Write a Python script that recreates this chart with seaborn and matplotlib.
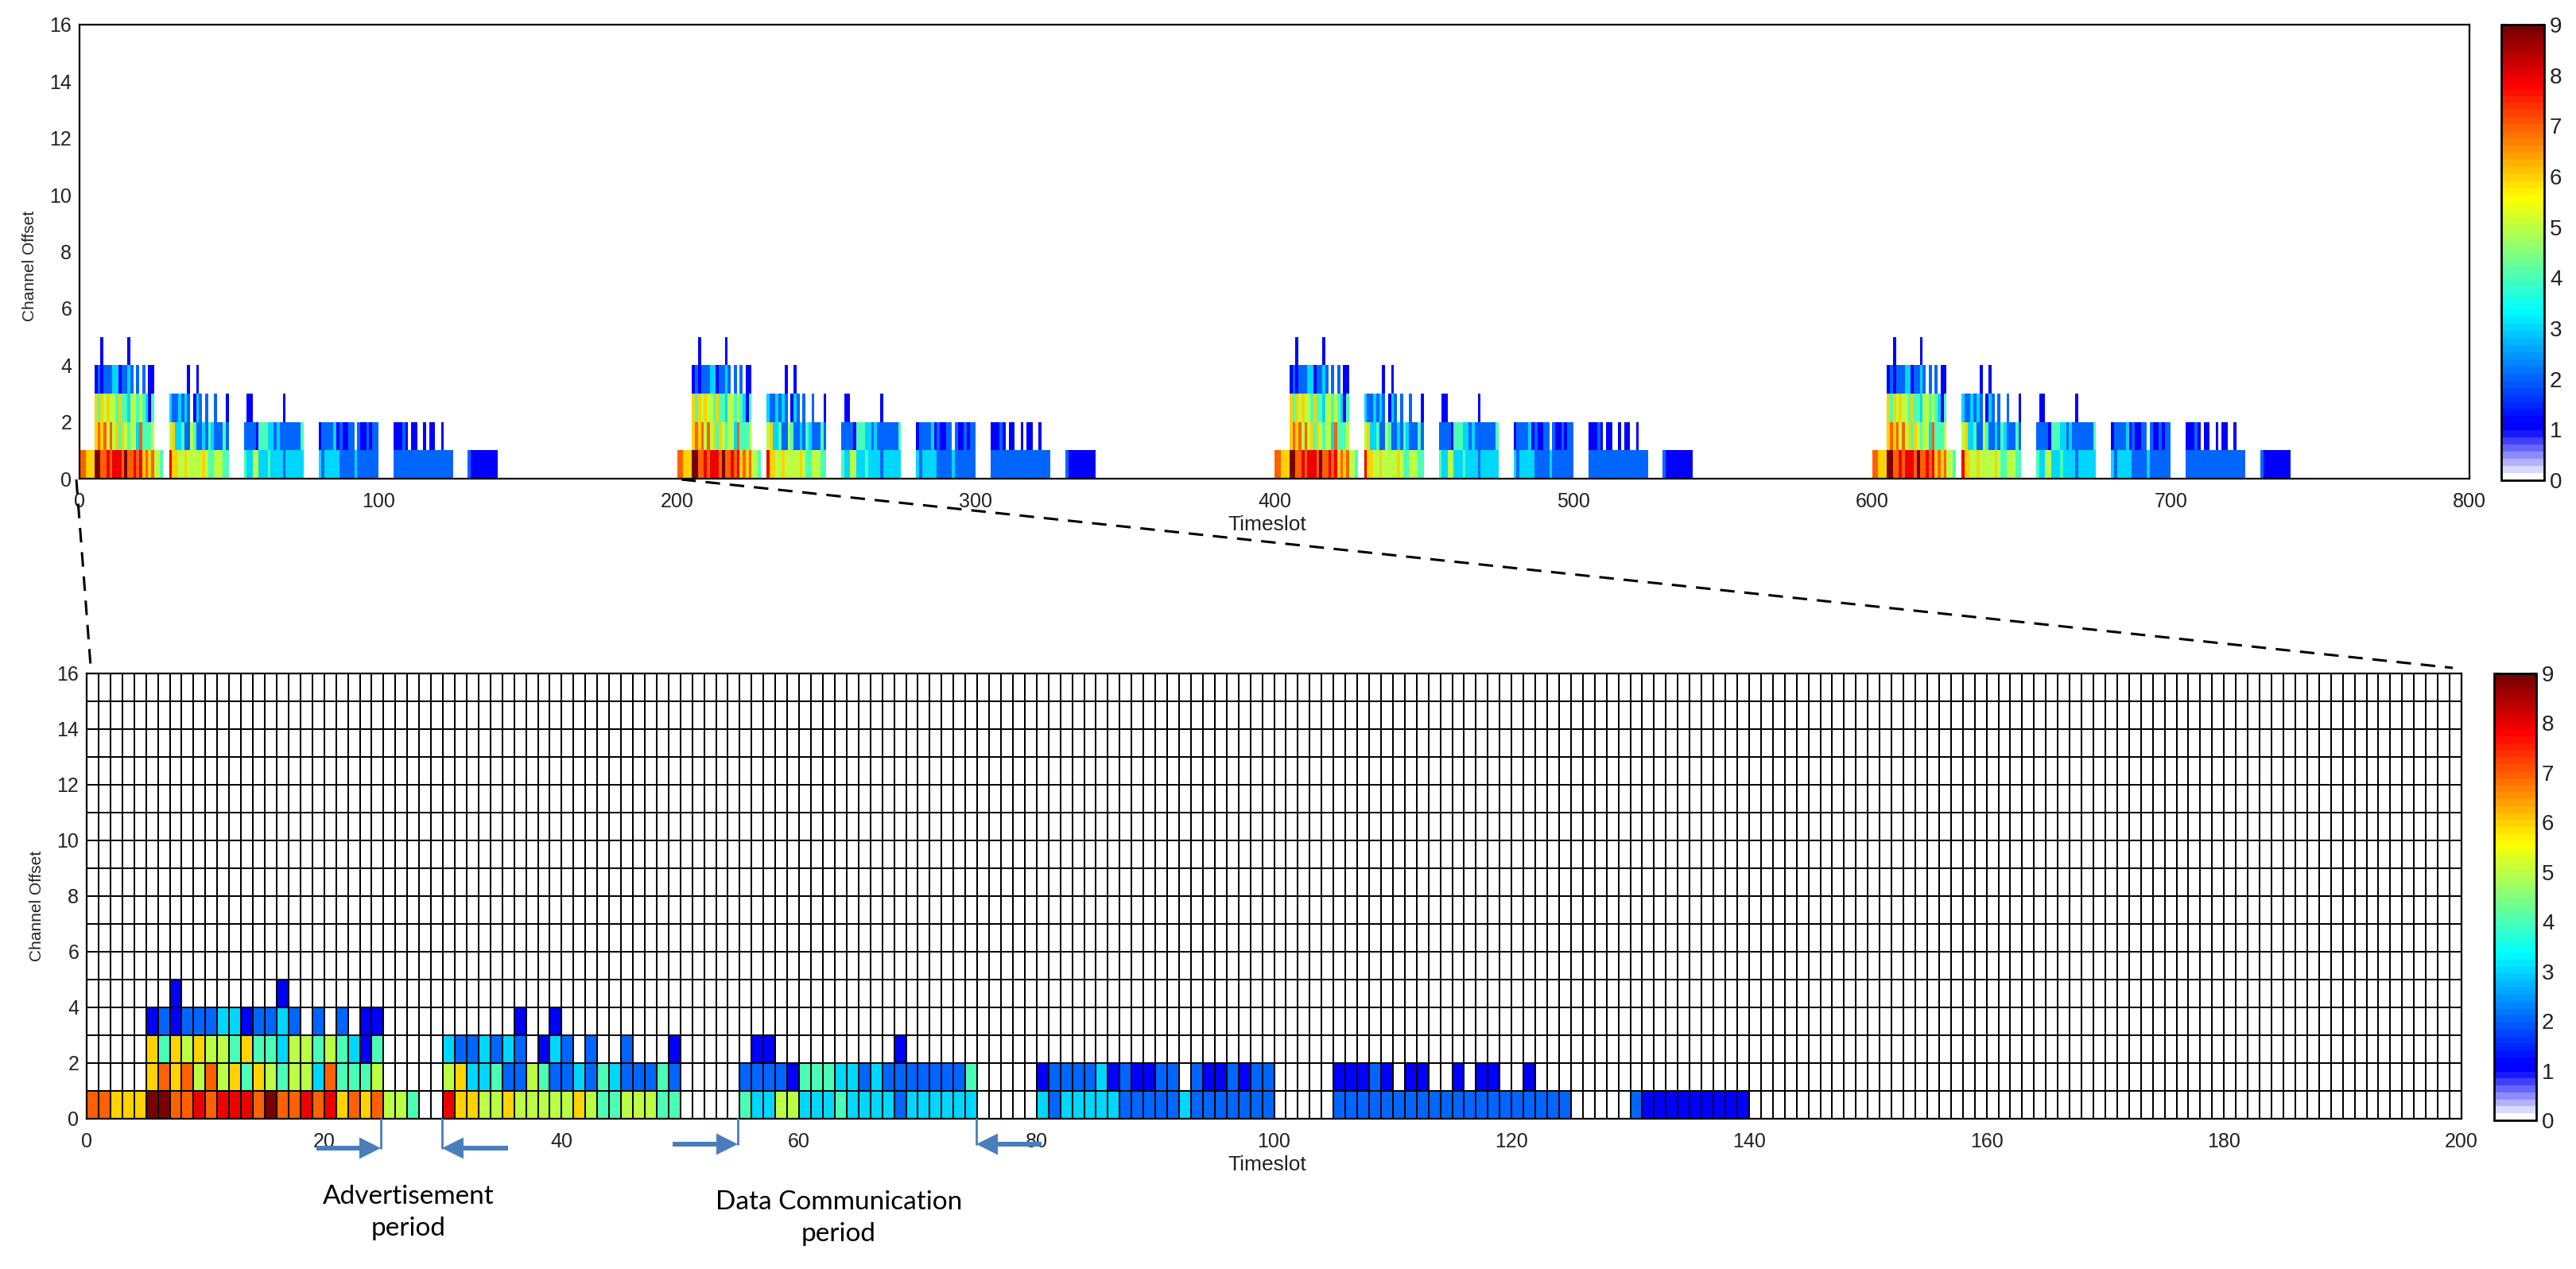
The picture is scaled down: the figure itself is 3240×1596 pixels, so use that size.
import numpy as np
import pandas as pd
import matplotlib
matplotlib.use("Agg")
import matplotlib.pyplot as plt
import matplotlib.patches as mpatches
from matplotlib.colors import LinearSegmentedColormap
from matplotlib.lines import Line2D
from matplotlib.transforms import Affine2D
import seaborn as sns

# values of one slotframe
row0 = [7,7,6,6,6,9,9,7,7,8,7,8,8,8,7,9,7,7,8,7,8,6,7,6,7,5,5,4,0,0,
        8,6,6,5,5,6,5,5,5,5,5,6,5,4,4,5,5,5,4,4,0,0,0,0,0,
        4,3,3,5,5,3,3,3,4,3,3,3,3,2,3,3,3,3,3,3,0,0,0,0,0,
        3,2,3,3,3,3,3,2,2,2,2,2,3,2,2,2,2,2,2,2,0,0,0,0,0,
        2,2,2,2,2,2,2,2,2,2,2,2,2,2,2,2,2,2,2,2,0,0,0,0,0,
        2,1,1,1,1,1,1,1,1,1]
row1 = [0,0,0,0,0,6,7,6,7,5,7,5,6,4,6,5,4,5,5,3,7,4,4,4,5,0,0,0,0,0,
        5,6,3,3,4,2,2,5,4,2,2,3,2,4,3,2,2,2,4,2,0,0,0,0,0,
        2,2,2,2,1,4,4,4,3,3,2,3,2,2,2,2,2,2,2,4,0,0,0,0,0,
        1,2,2,2,2,3,1,2,1,1,2,2,0,2,1,1,2,1,2,2,0,0,0,0,0,
        1,1,1,2,1,0,1,1,0,0,1,0,1,1,0,0,1]
row2 = [0,0,0,0,0,6,4,6,5,6,5,5,4,6,4,4,3,5,5,4,5,4,3,1,4,0,0,0,0,0,
        3,2,2,3,2,3,2,0,1,3,2,0,2,0,0,2,0,0,0,1,0,0,0,0,0,0,1,1,
        0,0,0,0,0,0,0,0,0,0,1]
row3 = [0,0,0,0,0,1,2,1,2,2,2,3,3,1,2,2,3,2,0,2,0,2,0,1,1,0,0,0,0,0,
        0,0,0,0,0,0,1,0,0,1]
row4 = [0,0,0,0,0,0,0,1,0,0,0,0,0,0,0,0,1]

frame_rows = [row0, row1, row2, row3, row4]
n_channels = 16
frame_len = 200
n_frames = 4
color_ticks = [0, 1, 2, 3, 4, 5, 6, 7, 8, 9]
channel_ticks = [0, 2, 4, 6, 8, 10, 12, 14, 16]
top_ticks = [0, 100, 200, 300, 400, 500, 600, 700, 800]
bottom_ticks = [0, 20, 40, 60, 80, 100, 120, 140, 160, 180, 200]

W, H = 3240, 1596
DPI = 100


def to_frame():
    m = np.zeros((n_channels, frame_len))
    for i, r in enumerate(frame_rows):
        m[i, :len(r)] = r
    return pd.DataFrame(m)


def pixel_box(x0, y0, x1, y1):
    return [x0 / W, 1 - y1 / H, (x1 - x0) / W, (y1 - y0) / H]


# white into blue, then jet, in 64 flat steps like the matlab colorbar
anchors = [(0, "#ffffff"), (0.95, "#0000ff"), (1.1, "#0000ff"), (3.35, "#00ffff"),
           (5.6, "#ffff00"), (7.85, "#ff0000"), (9, "#780000")]
cmap = LinearSegmentedColormap.from_list("white_jet", [(v / 9, c) for v, c in anchors], N=64)

sns.set_theme(style="white")
plt.rcParams["font.family"] = ["Liberation Sans", "DejaVu Sans"]
plt.rcParams["axes.edgecolor"] = "black"
plt.rcParams["text.color"] = "#222222"
plt.rcParams["axes.labelcolor"] = "#222222"
plt.rcParams["xtick.color"] = "#222222"
plt.rcParams["ytick.color"] = "#222222"

fig = plt.figure(figsize=(W / DPI, H / DPI), dpi=DPI, facecolor="white")
ax_top = fig.add_axes(pixel_box(100, 31, 3106, 602))
cax_top = fig.add_axes(pixel_box(3146, 31, 3200, 604))
ax_bot = fig.add_axes(pixel_box(109, 847, 3096, 1407))
cax_bot = fig.add_axes(pixel_box(3137, 847, 3190, 1409))

frame = to_frame()
schedule = pd.DataFrame(np.tile(frame.values, (1, n_frames)))

sns.heatmap(schedule, ax=ax_top, cbar_ax=cax_top, cmap=cmap, vmin=0, vmax=9,
            xticklabels=False, yticklabels=False)
sns.heatmap(frame, ax=ax_bot, cbar_ax=cax_bot, cmap=cmap, vmin=0, vmax=9,
            linewidths=1.3, linecolor="black", xticklabels=False, yticklabels=False)

for ax, ticks, label_y in [(ax_top, top_ticks, 0.347), (ax_bot, bottom_ticks, 0.354)]:
    ax.invert_yaxis()
    ax.set_xticks(ticks)
    ax.set_xticklabels(ticks, rotation=0)
    ax.set_yticks(channel_ticks)
    ax.set_yticklabels(channel_ticks, rotation=0)
    ax.tick_params(axis="both", length=0, labelsize=18)
    ax.tick_params(axis="x", pad=12)
    ax.tick_params(axis="y", pad=7)
    ax.set_xlabel("Timeslot", fontsize=19, labelpad=4, x=0.497)
    ax.set_ylabel("Channel Offset", fontsize=15, labelpad=11, y=label_y, ha="left")
    for s in ax.spines.values():
        s.set_visible(True)
        s.set_linewidth(1.6)
        s.set_color("black")

for ax, cax in [(ax_top, cax_top), (ax_bot, cax_bot)]:
    cb = ax.collections[0].colorbar
    cb.set_ticks(color_ticks)
    cb.ax.tick_params(left=True, right=True, direction="in", length=6, width=1.5,
                      color="black", labelsize=20, pad=5)
    cb.outline.set_linewidth(2)
    cb.outline.set_edgecolor("black")

# zoom guide lines and period markers are placed in figure pixels
to_fig = Affine2D().scale(1 / W, -1 / H).translate(0, 1) + fig.transFigure

for x0, y0, x1, y1 in [(96, 603, 114, 838), (857, 603, 3085, 840)]:
    fig.add_artist(Line2D([x0, x1], [y0, y1], transform=to_fig, color="black",
                          lw=2.2, ls=(0, (6, 4))))

arrow_color = "#4a7ebb"
for line_x, tail_x, arrow_y in [(479, 398, 1444), (556, 639, 1444), (928, 846, 1439), (1228, 1310, 1439)]:
    fig.add_artist(Line2D([line_x, line_x], [1407, arrow_y], transform=to_fig,
                          color=arrow_color, lw=2))
    fig.add_artist(mpatches.FancyArrow(tail_x, arrow_y, line_x - tail_x, 0, width=6, head_width=27,
                                       head_length=27, length_includes_head=True,
                                       transform=to_fig, color=arrow_color, lw=0))

for label, cx, cy in [("Advertisement\nperiod", 514, 1525), ("Data Communication\nperiod", 1055, 1532)]:
    fig.text(cx / W, 1 - cy / H, label, ha="center", va="center", fontsize=24,
             family=["Lato", "DejaVu Sans"], color="black", linespacing=1.45)

fig.savefig("out.png", dpi=DPI)
